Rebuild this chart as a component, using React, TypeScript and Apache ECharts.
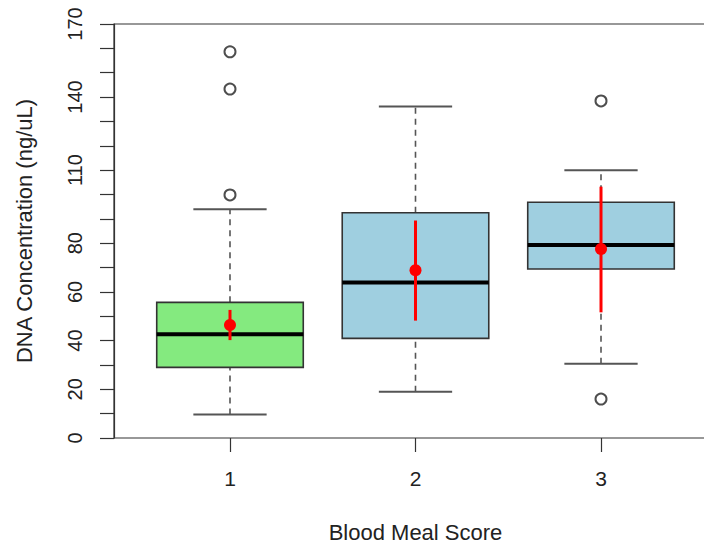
import React, { useEffect, useRef } from "react";
import * as echarts from "echarts";

const categories = [1, 2, 3];
const whiskerLow = [9.7, 19.0, 30.5];
const q1 = [29.0, 40.9, 69.4];
const median = [42.6, 63.9, 79.3];
const q3 = [55.7, 92.5, 96.8];
const whiskerHigh = [93.9, 136.1, 109.9];
const means = [46.4, 68.9, 77.6];
const ciLow = [40.2, 48.2, 51.6];
const ciHigh = [52.6, 89.3, 103.2];
const outlierX = [1, 1, 1, 3, 3];
const outlierY = [158.6, 143.3, 99.8, 138.4, 16.0];
const boxColors = ["#84EA7F", "#9FCFE0", "#9FCFE0"];
const yLabelValues = [0, 20, 40, 60, 80, 110, 140, 170];

const FONT = "'Liberation Sans', Arial, Helvetica, sans-serif";

export default function App() {
  const ref = useRef<HTMLDivElement>(null);
  useEffect(() => {
    if (!ref.current) return;
    const chart = echarts.init(ref.current, undefined, { renderer: "svg" });
    const boxData = categories.map((c, i) => [c, whiskerLow[i], q1[i], median[i], q3[i], whiskerHigh[i]]);
    const meanData = categories.map((c, i) => [c, means[i], ciLow[i], ciHigh[i]]);
    const outData = outlierX.map((x, i) => [x, outlierY[i]]);
    const boxWidth = 0.79;
    chart.setOption({
      animation: false,
      backgroundColor: "#fff",
      textStyle: { fontFamily: FONT },
      grid: {
        left: 114,
        top: 24,
        width: 603,
        height: 414,
        outerBoundsMode: "none",
        containLabel: false,
        show: true,
        borderColor: "#333",
        borderWidth: 1.2,
        backgroundColor: "transparent",
      },
      xAxis: {
        type: "value",
        min: 0.3747,
        max: 3.6253,
        name: "Blood Meal Score",
        nameLocation: "middle",
        nameGap: 83,
        nameTextStyle: { fontSize: 22, color: "#222", fontFamily: FONT },
        axisLine: { show: false },
        splitLine: { show: false },
        axisTick: {
          show: true,
          customValues: categories,
          length: 14,
          lineStyle: { color: "#333", width: 1.2 },
        },
        axisLabel: {
          customValues: categories,
          margin: 30,
          fontSize: 21,
          color: "#222",
          fontFamily: FONT,
        },
      },
      yAxis: {
        type: "value",
        min: 0,
        max: 170,
        interval: 10,
        name: "DNA Concentration (ng/uL)",
        nameLocation: "middle",
        nameGap: 79,
        nameTextStyle: { fontSize: 22, color: "#222", fontFamily: FONT },
        axisLine: { show: true, lineStyle: { color: "#333", width: 1.2 } },
        splitLine: { show: false },
        axisTick: { show: true, length: 14, lineStyle: { color: "#333", width: 1.2 } },
        axisLabel: {
          rotate: 90,
          margin: 29,
          fontSize: 20,
          color: "#222",
          fontFamily: FONT,
          formatter: (v: number) => (yLabelValues.includes(v) ? String(v) : ""),
        },
      },
      series: [
        {
          type: "custom",
          data: boxData,
          encode: { x: 0, y: [1, 2, 3, 4, 5] },
          renderItem: (params: any, api: any) => {
            const x = api.value(0);
            const w = api.size([boxWidth, 0])[0];
            const pl = api.coord([x, api.value(1)]);
            const p1 = api.coord([x, api.value(2)]);
            const pm = api.coord([x, api.value(3)]);
            const p3 = api.coord([x, api.value(4)]);
            const ph = api.coord([x, api.value(5)]);
            const cx = pl[0];
            const dash = { stroke: "#555", lineWidth: 1.6, lineDash: [6, 5] };
            const cap = { stroke: "#555", lineWidth: 2 };
            return {
              type: "group",
              children: [
                { type: "line", shape: { x1: cx, y1: pl[1], x2: cx, y2: p1[1] }, style: dash },
                { type: "line", shape: { x1: cx, y1: p3[1], x2: cx, y2: ph[1] }, style: dash },
                { type: "line", shape: { x1: cx - w / 4, y1: pl[1], x2: cx + w / 4, y2: pl[1] }, style: cap },
                { type: "line", shape: { x1: cx - w / 4, y1: ph[1], x2: cx + w / 4, y2: ph[1] }, style: cap },
                {
                  type: "rect",
                  shape: { x: cx - w / 2, y: p3[1], width: w, height: p1[1] - p3[1] },
                  style: { fill: boxColors[params.dataIndex], stroke: "#333", lineWidth: 1.6 },
                },
                {
                  type: "line",
                  shape: { x1: cx - w / 2, y1: pm[1], x2: cx + w / 2, y2: pm[1] },
                  style: { stroke: "#000", lineWidth: 4 },
                },
              ],
            };
          },
          z: 2,
        },
        {
          type: "custom",
          data: meanData,
          encode: { x: 0, y: [1, 2, 3] },
          renderItem: (params: any, api: any) => {
            const x = api.value(0);
            const pm = api.coord([x, api.value(1)]);
            const plo = api.coord([x, api.value(2)]);
            const phi = api.coord([x, api.value(3)]);
            return {
              type: "group",
              children: [
                {
                  type: "line",
                  shape: { x1: pm[0], y1: plo[1], x2: pm[0], y2: phi[1] },
                  style: { stroke: "#FF0000", lineWidth: 3 },
                },
                { type: "circle", shape: { cx: pm[0], cy: pm[1], r: 6 }, style: { fill: "#FF0000" } },
              ],
            };
          },
          z: 3,
        },
        {
          type: "scatter",
          data: outData,
          symbol: "emptyCircle",
          symbolSize: 11,
          itemStyle: { color: "#222", borderColor: "#222", borderWidth: 1.5 },
          z: 4,
        },
      ],
    });
    return () => chart.dispose();
  }, []);
  return <div ref={ref} style={{ position: "fixed", left: 0, top: 0, width: 704, height: 544 }} />;
}
